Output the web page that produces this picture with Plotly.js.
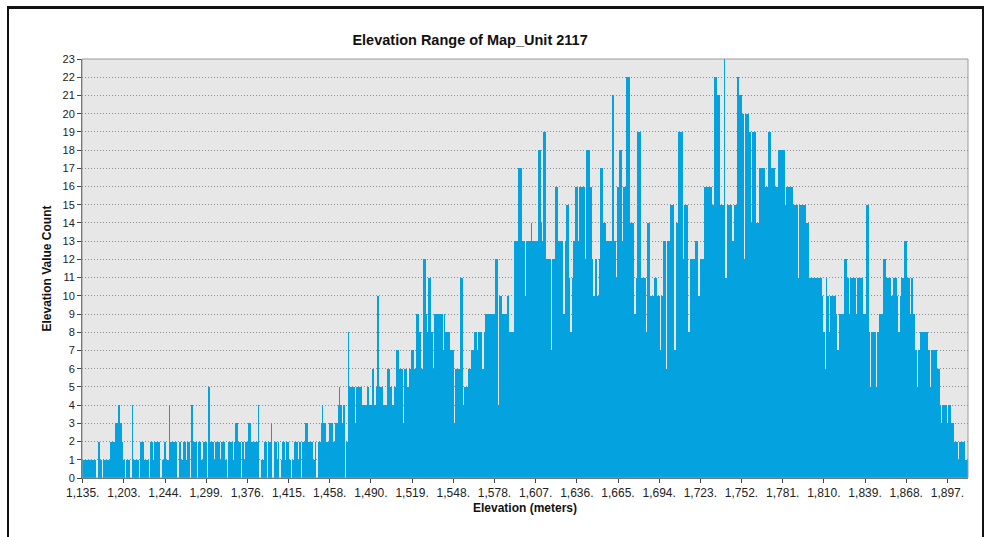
<!DOCTYPE html>
<html>
<head>
<meta charset="utf-8">
<script src="https://cdn.plot.ly/plotly-3.0.1.min.js"></script>
<style>
html, body { margin: 0; padding: 0; background: #ffffff; }
#wrap { position: relative; width: 989px; height: 537px; overflow: hidden; }
#chart { width: 989px; height: 537px; }
#frame { position: absolute; left: 7px; top: 6px; width: 973px; height: 560px;
         border-left: 2px solid #111; border-right: 2px solid #111; border-top: 3px solid #111;
         pointer-events: none; }
</style>
</head>
<body>
<div id="wrap">
  <div id="chart"></div>
  <div id="frame"></div>
</div>
<script>
// Count of cells for each elevation value (one bar per value, left to right)
const counts = [
  1,1,1,1,1,1,1,1,1,1,
  0,2,2,1,0,1,1,1,1,1,
  2,2,2,3,3,4,4,3,2,1,
  0,1,1,1,0,4,1,1,1,1,
  0,2,2,2,1,1,1,0,2,2,
  1,2,2,2,2,0,1,1,2,1,
  1,4,2,2,2,2,2,0,2,2,
  1,2,2,1,2,2,0,4,2,2,
  2,0,2,2,1,2,2,2,0,5,
  2,2,2,1,2,2,2,1,2,2,
  2,1,0,2,2,2,1,2,3,3,
  2,2,0,2,1,2,2,3,3,2,
  2,2,2,2,4,0,1,1,2,2,
  0,2,2,3,0,2,2,1,2,0,
  1,2,2,1,2,2,1,0,1,2,
  2,2,1,2,0,2,2,3,3,2,
  2,2,2,1,2,0,2,2,3,4,
  3,3,2,2,3,3,3,2,3,3,
  4,5,4,3,4,0,2,8,5,5,
  5,5,3,5,5,5,5,4,4,4,
  4,5,4,4,6,6,4,5,10,5,
  5,5,4,4,4,6,6,5,4,4,
  5,7,7,6,6,6,3,6,6,5,
  6,6,7,7,6,9,9,8,8,6,
  12,12,9,8,11,11,8,6,9,9,
  9,9,9,9,7,9,8,8,8,7,
  7,7,3,6,6,6,11,11,4,5,
  5,5,6,6,7,7,8,8,7,8,
  8,8,6,8,9,9,9,9,9,9,
  9,12,12,4,10,10,9,9,9,10,
  10,8,8,8,13,13,13,17,17,17,
  13,13,10,13,13,13,14,13,13,13,
  13,18,18,14,13,19,19,12,12,12,
  7,12,12,16,16,13,13,13,13,9,
  13,15,15,11,8,11,13,16,16,13,
  16,16,16,16,12,18,18,18,16,12,
  10,12,12,10,12,17,17,14,14,13,
  13,13,13,21,21,13,11,16,18,18,
  13,16,16,22,22,22,14,14,14,9,
  11,19,19,19,11,11,11,8,14,14,
  10,10,10,11,11,10,10,7,10,13,
  13,6,13,13,15,15,15,7,14,14,
  19,19,19,12,15,15,15,8,12,12,
  12,12,13,13,10,12,12,12,16,16,
  16,16,16,16,15,22,22,21,21,15,
  15,15,23,11,15,15,15,15,13,15,
  15,22,22,21,21,20,12,20,20,20,
  19,14,19,19,19,14,14,17,17,17,
  17,16,16,19,19,17,17,17,16,16,
  18,18,18,18,18,15,16,16,16,16,
  16,15,15,15,11,15,15,15,15,15,
  14,14,11,11,11,11,11,11,11,11,
  11,10,8,6,11,10,8,10,10,10,
  10,9,7,9,9,9,9,12,12,11,
  9,11,11,11,11,9,11,11,11,11,
  9,9,15,15,8,5,8,8,8,5,
  8,9,9,9,12,12,11,11,11,11,
  10,11,11,11,10,8,10,11,11,13,
  13,11,11,9,11,9,9,7,5,7,
  8,8,8,8,8,8,7,5,7,7,
  7,7,6,6,4,3,4,4,4,3,
  4,4,3,3,2,2,2,1,2,2,
  2,2,1,1
];

// Elevation labels shown under every 29th bar
const tickLabels = [
  '1,135.', '1,203.', '1,244.', '1,299.', '1,376.', '1,415.', '1,458.', '1,490.',
  '1,519.', '1,548.', '1,578.', '1,607.', '1,636.', '1,665.', '1,694.', '1,723.',
  '1,752.', '1,781.', '1,810.', '1,839.', '1,868.', '1,897.'
];
const barsPerLabel = 29;

const FONT = 'Liberation Sans, Arial, Helvetica, sans-serif';

const xIdx = counts.map((_, i) => i);
const tickvals = tickLabels.map((_, k) => k * barsPerLabel);

const trace = {
  type: 'bar',
  x: xIdx,
  y: counts,
  width: 1,
  marker: { color: '#04a2de', line: { width: 0 } },
  hoverinfo: 'x+y'
};

const layout = {
  width: 989,
  height: 537,
  margin: { l: 82, r: 21, t: 59, b: 59, pad: 0 },
  paper_bgcolor: '#ffffff',
  plot_bgcolor: '#e7e7e7',
  bargap: 0,
  showlegend: false,
  title: {
    text: 'Elevation Range of Map_Unit 2117',
    font: { family: FONT, size: 14.5, color: '#111111', weight: 'bold' },
    x: 0.438, xanchor: 'center', xref: 'paper',
    y: 1 - 40 / 537, yanchor: 'middle', yref: 'container'
  },
  xaxis: {
    range: [-0.5, counts.length - 0.5],
    tickmode: 'array',
    tickvals: tickvals,
    ticktext: tickLabels,
    tickangle: 0,
    ticks: 'outside',
    ticklen: 4,
    tickcolor: '#444',
    tickfont: { family: FONT, size: 12, color: '#222' },
    showline: true,
    linecolor: '#555',
    linewidth: 1,
    showgrid: false,
    zeroline: false,
    fixedrange: true,
    title: {
      text: 'Elevation (meters)',
      font: { family: FONT, size: 12, color: '#111', weight: 'bold' },
      standoff: 4
    }
  },
  yaxis: {
    range: [0, 23],
    tick0: 0,
    dtick: 1,
    ticks: 'outside',
    ticklen: 4,
    tickcolor: '#444',
    tickfont: { family: FONT, size: 11, color: '#222' },
    showline: true,
    linecolor: '#555',
    linewidth: 1,
    showgrid: true,
    gridcolor: '#8c8c8c',
    griddash: '1px,2px',
    gridwidth: 1,
    zeroline: false,
    fixedrange: true,
    title: {
      text: 'Elevation Value Count',
      font: { family: FONT, size: 12, color: '#111', weight: 'bold' },
      standoff: 8
    }
  },
  shapes: [
    { type: 'rect', xref: 'paper', yref: 'paper', x0: 0, x1: 1, y0: 0, y1: 1,
      line: { color: '#9a9a9a', width: 1 }, fillcolor: 'rgba(0,0,0,0)', layer: 'above' }
  ]
};

Plotly.newPlot('chart', [trace], layout, { displayModeBar: false, staticPlot: true });
</script>
</body>
</html>
